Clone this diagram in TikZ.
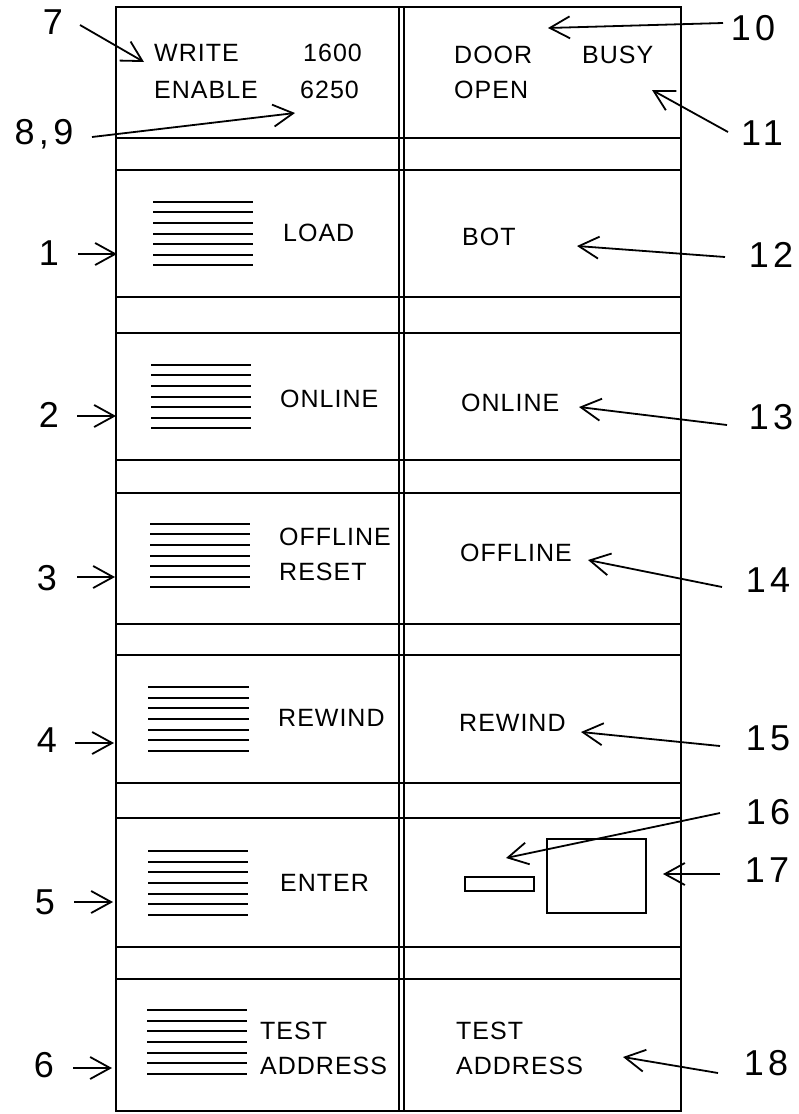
\documentclass[tikz,border=0pt]{standalone}
\usepackage{fontspec}
\setmainfont{Liberation Sans}
\newfontfamily\numfont[LetterSpace=12]{Liberation Sans}
\newfontfamily\panelfont[LetterSpace=4]{Liberation Sans}
\usetikzlibrary{arrows.meta}
\tikzset{
  frame/.style={line width=2.2pt},
  hatch/.style={line width=2pt},
  callout/.style={line width=1.8pt, -{Straight Barb[length=20pt,width=22pt,line width=1.8pt]}},
  ptext/.style={anchor=west, inner sep=0pt, font=\panelfont\fontsize{25}{29}\selectfont},
  num/.style={inner sep=0pt, font=\numfont\fontsize{36}{40}\selectfont},
  smallbox/.style={line width=2pt}
}
\begin{document}
\begin{tikzpicture}[x=1pt,y=-1pt]
\useasboundingbox (0,0) rectangle (799,1114);
% outer frame and centre double line
\draw[frame] (116,7) rectangle (681,1111);
\draw[frame] (399,7) -- (399,1111);
\draw[frame] (404,7) -- (404,1111);
% horizontal rows
\foreach \y in {138,170,297,333,460,493,624,655,783,818,947,979}
  \draw[frame] (116,\y) -- (681,\y);
% hatch patterns
\foreach \a/\b/\c in {153/253/233.5, 151/251/396.5, 150/250/555.5, 148/249/719, 148/248/883, 147/247/1042}
  \foreach \k in {-3,...,3}
    \draw[hatch] (\a,\c+10.6*\k) -- (\b,\c+10.6*\k);
% top panels
\node[ptext] (write) at (154,53) {WRITE};
\node[ptext] (enable) at (154,90) {ENABLE};
\node[ptext] (n1600) at (303,53) {1600};
\node[ptext] (n6250) at (300,90) {6250};
\node[ptext] (door) at (454,55) {DOOR};
\node[ptext] (open) at (454,90) {OPEN};
\node[ptext] (busy) at (582,55) {BUSY};
% left panel labels
\node[ptext] (load) at (283,233) {LOAD};
\node[ptext] (onl) at (280,399) {ONLINE};
\node[ptext] (offl) at (279,537) {OFFLINE};
\node[ptext] (resetl) at (279,572) {RESET};
\node[ptext] (rewl) at (278,718) {REWIND};
\node[ptext] (enter) at (280,883) {ENTER};
\node[ptext] (testl) at (260,1031) {TEST};
\node[ptext] (addrl) at (260,1066) {ADDRESS};
% right panel labels
\node[ptext] (bot) at (462,237) {BOT};
\node[ptext] (onr) at (461,403) {ONLINE};
\node[ptext] (offr) at (460,553) {OFFLINE};
\node[ptext] (rewr) at (459,723) {REWIND};
\node[ptext] (testr) at (456,1031) {TEST};
\node[ptext] (addrr) at (456,1066) {ADDRESS};
% small boxes in panel 5 right
\draw[smallbox] (465,877) rectangle (534,891);
\draw[smallbox] (547,839) rectangle (646,913);
% reference numerals
\node[num] (l7) at (53,22) {7};
\node[num] (l89) at (44,134) {8,9};
\node[num] (l10) at (753,28) {10};
\node[num] (l11) at (762,133) {11};
\node[num] (l1) at (49,253) {1};
\node[num] (l2) at (49,415) {2};
\node[num] (l3) at (47,578) {3};
\node[num] (l4) at (47,740) {4};
\node[num] (l5) at (45,902) {5};
\node[num] (l6) at (44,1065) {6};
\node[num] (l12) at (771,255) {12};
\node[num] (l13) at (771,417) {13};
\node[num] (l14) at (768,580) {14};
\node[num] (l15) at (768,738) {15};
\node[num] (l16) at (768,812) {16};
\node[num] (l17) at (767,870) {17};
\node[num] (l18) at (766,1063) {18};
% arrow start and tip coordinates
\coordinate (s7) at (80,25);   \coordinate (t7) at (144,62);
\coordinate (s89) at (92,137); \coordinate (t89) at (295,113);
\coordinate (s10) at (723,23); \coordinate (t10) at (548,28);
\coordinate (s11) at (728,132);\coordinate (t11) at (652,90);
\coordinate (s1) at (78,254);  \coordinate (t1) at (117,254);
\coordinate (s2) at (77,416);  \coordinate (t2) at (116,416);
\coordinate (s3) at (77,577);  \coordinate (t3) at (115,577);
\coordinate (s4) at (75,743);  \coordinate (t4) at (114,743);
\coordinate (s5) at (74,902);  \coordinate (t5) at (113,902);
\coordinate (s6) at (73,1068); \coordinate (t6) at (112,1068);
\coordinate (s12) at (725,257);\coordinate (t12) at (577,246);
\coordinate (s13) at (727,425);\coordinate (t13) at (579,407);
\coordinate (s14) at (722,587);\coordinate (t14) at (588,560);
\coordinate (s15) at (720,746);\coordinate (t15) at (581,732);
\coordinate (s16) at (720,813);\coordinate (t16) at (506,858);
\coordinate (s17) at (720,874);\coordinate (t17) at (663,874);
\coordinate (s18) at (718,1073);\coordinate (t18) at (623,1057);
\foreach \n in {7,89,10,11,1,2,3,4,5,6,12,13,14,15,16,17,18}
  \draw[callout] (s\n) -- (t\n);
\end{tikzpicture}
\end{document}
